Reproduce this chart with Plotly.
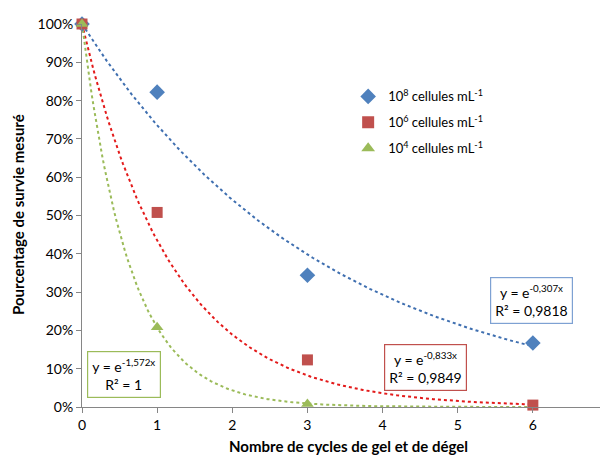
import numpy as np
import plotly.graph_objects as go

cycles_8 = [0, 1, 3, 6]
survie_8 = [1.00, 0.822, 0.344, 0.167]
cycles_6 = [0, 1, 3, 6]
survie_6 = [1.00, 0.508, 0.123, 0.005]
cycles_4 = [0, 1, 3]
survie_4 = [1.00, 0.208, 0.008]

k_8, r2_8 = 0.307, "0,9818"
k_6, r2_6 = 0.833, "0,9849"
k_4, r2_4 = 1.572, "1"

names = ["10<sup>8</sup> cellules mL<sup>-1</sup>",
         "10<sup>6</sup> cellules mL<sup>-1</sup>",
         "10<sup>4</sup> cellules mL<sup>-1</sup>"]

FONT = "Lato, 'Liberation Sans', sans-serif"
blue, red, green = "#4F81BD", "#C0504D", "#9BBB59"

fig = go.Figure()
xs = np.linspace(0, 6, 200)
for k, col in [(k_8, "#3F6FB0"), (k_6, "#E31A1A"), (k_4, "#9BBB59")]:
    fig.add_trace(go.Scatter(x=xs, y=np.exp(-k * xs), mode="lines",
                             line=dict(color=col, width=2, dash="dot"),
                             showlegend=False, hoverinfo="skip", cliponaxis=False))

fig.add_trace(go.Scatter(x=cycles_8, y=survie_8, mode="markers", name=names[0], legendgroup="a",
                         marker=dict(symbol="diamond", size=12, color=blue), cliponaxis=False))
fig.add_trace(go.Scatter(x=cycles_6, y=survie_6, mode="markers", name=names[1], legendgroup="b",
                         marker=dict(symbol="square", size=11, color=red), cliponaxis=False))
fig.add_trace(go.Scatter(x=cycles_4, y=survie_4, mode="markers", name=names[2], legendgroup="c",
                         marker=dict(symbol="triangle-up", size=11, color=green), cliponaxis=False))

def box(x, y, k, r2, col):
    fig.add_annotation(x=x, y=y, xref="x", yref="y", showarrow=False,
                       text=f"y = e<sup>-{str(k).replace('.', ',')}x</sup><br>R² = {r2}",
                       font=dict(family=FONT, size=14, color="black"),
                       bordercolor=col, borderwidth=1.2, borderpad=4,
                       bgcolor="white", align="center")

box(5.98, 0.279, k_8, r2_8, "#7EA1D3")
box(4.57, 0.102, k_6, r2_6, red)
box(0.553, 0.085, k_4, r2_4, green)

fig.add_annotation(x=0.506, y=-0.103, xref="paper", yref="paper", showarrow=False,
                   text="<b>Nombre de cycles de gel et de dégel</b>",
                   font=dict(family=FONT, size=15, color="black"), yanchor="middle")
fig.add_annotation(x=-0.1217, y=0.504, xref="paper", yref="paper", showarrow=False,
                   text="<b>Pourcentage de survie mesuré</b>", textangle=-90,
                   font=dict(family=FONT, size=15, color="black"), xanchor="center")

axis_common = dict(showline=True, linecolor="#868686", linewidth=1, ticks="outside",
                   tickcolor="#868686", ticklen=5, showgrid=False, zeroline=False,
                   automargin=False,
                   tickfont=dict(family=FONT, size=14, color="black"))

fig.update_layout(
    width=600, height=447,
    margin=dict(l=74, r=0, t=16, b=48),
    plot_bgcolor="white", paper_bgcolor="white",
    font=dict(family=FONT, size=14, color="black"),
    xaxis=dict(range=[0, 7], tickvals=[0, 1, 2, 3, 4, 5, 6], **axis_common),
    yaxis=dict(range=[0, 1], tickvals=[i / 10 for i in range(11)], tickformat=".0%",
               **axis_common),
    legend=dict(x=0.506, y=0.85, xanchor="left", yanchor="top",
                font=dict(family=FONT, size=13), bgcolor="rgba(0,0,0,0)",
                tracegroupgap=6, itemsizing="constant"),
    showlegend=True,
)

fig.write_html("out.html")
